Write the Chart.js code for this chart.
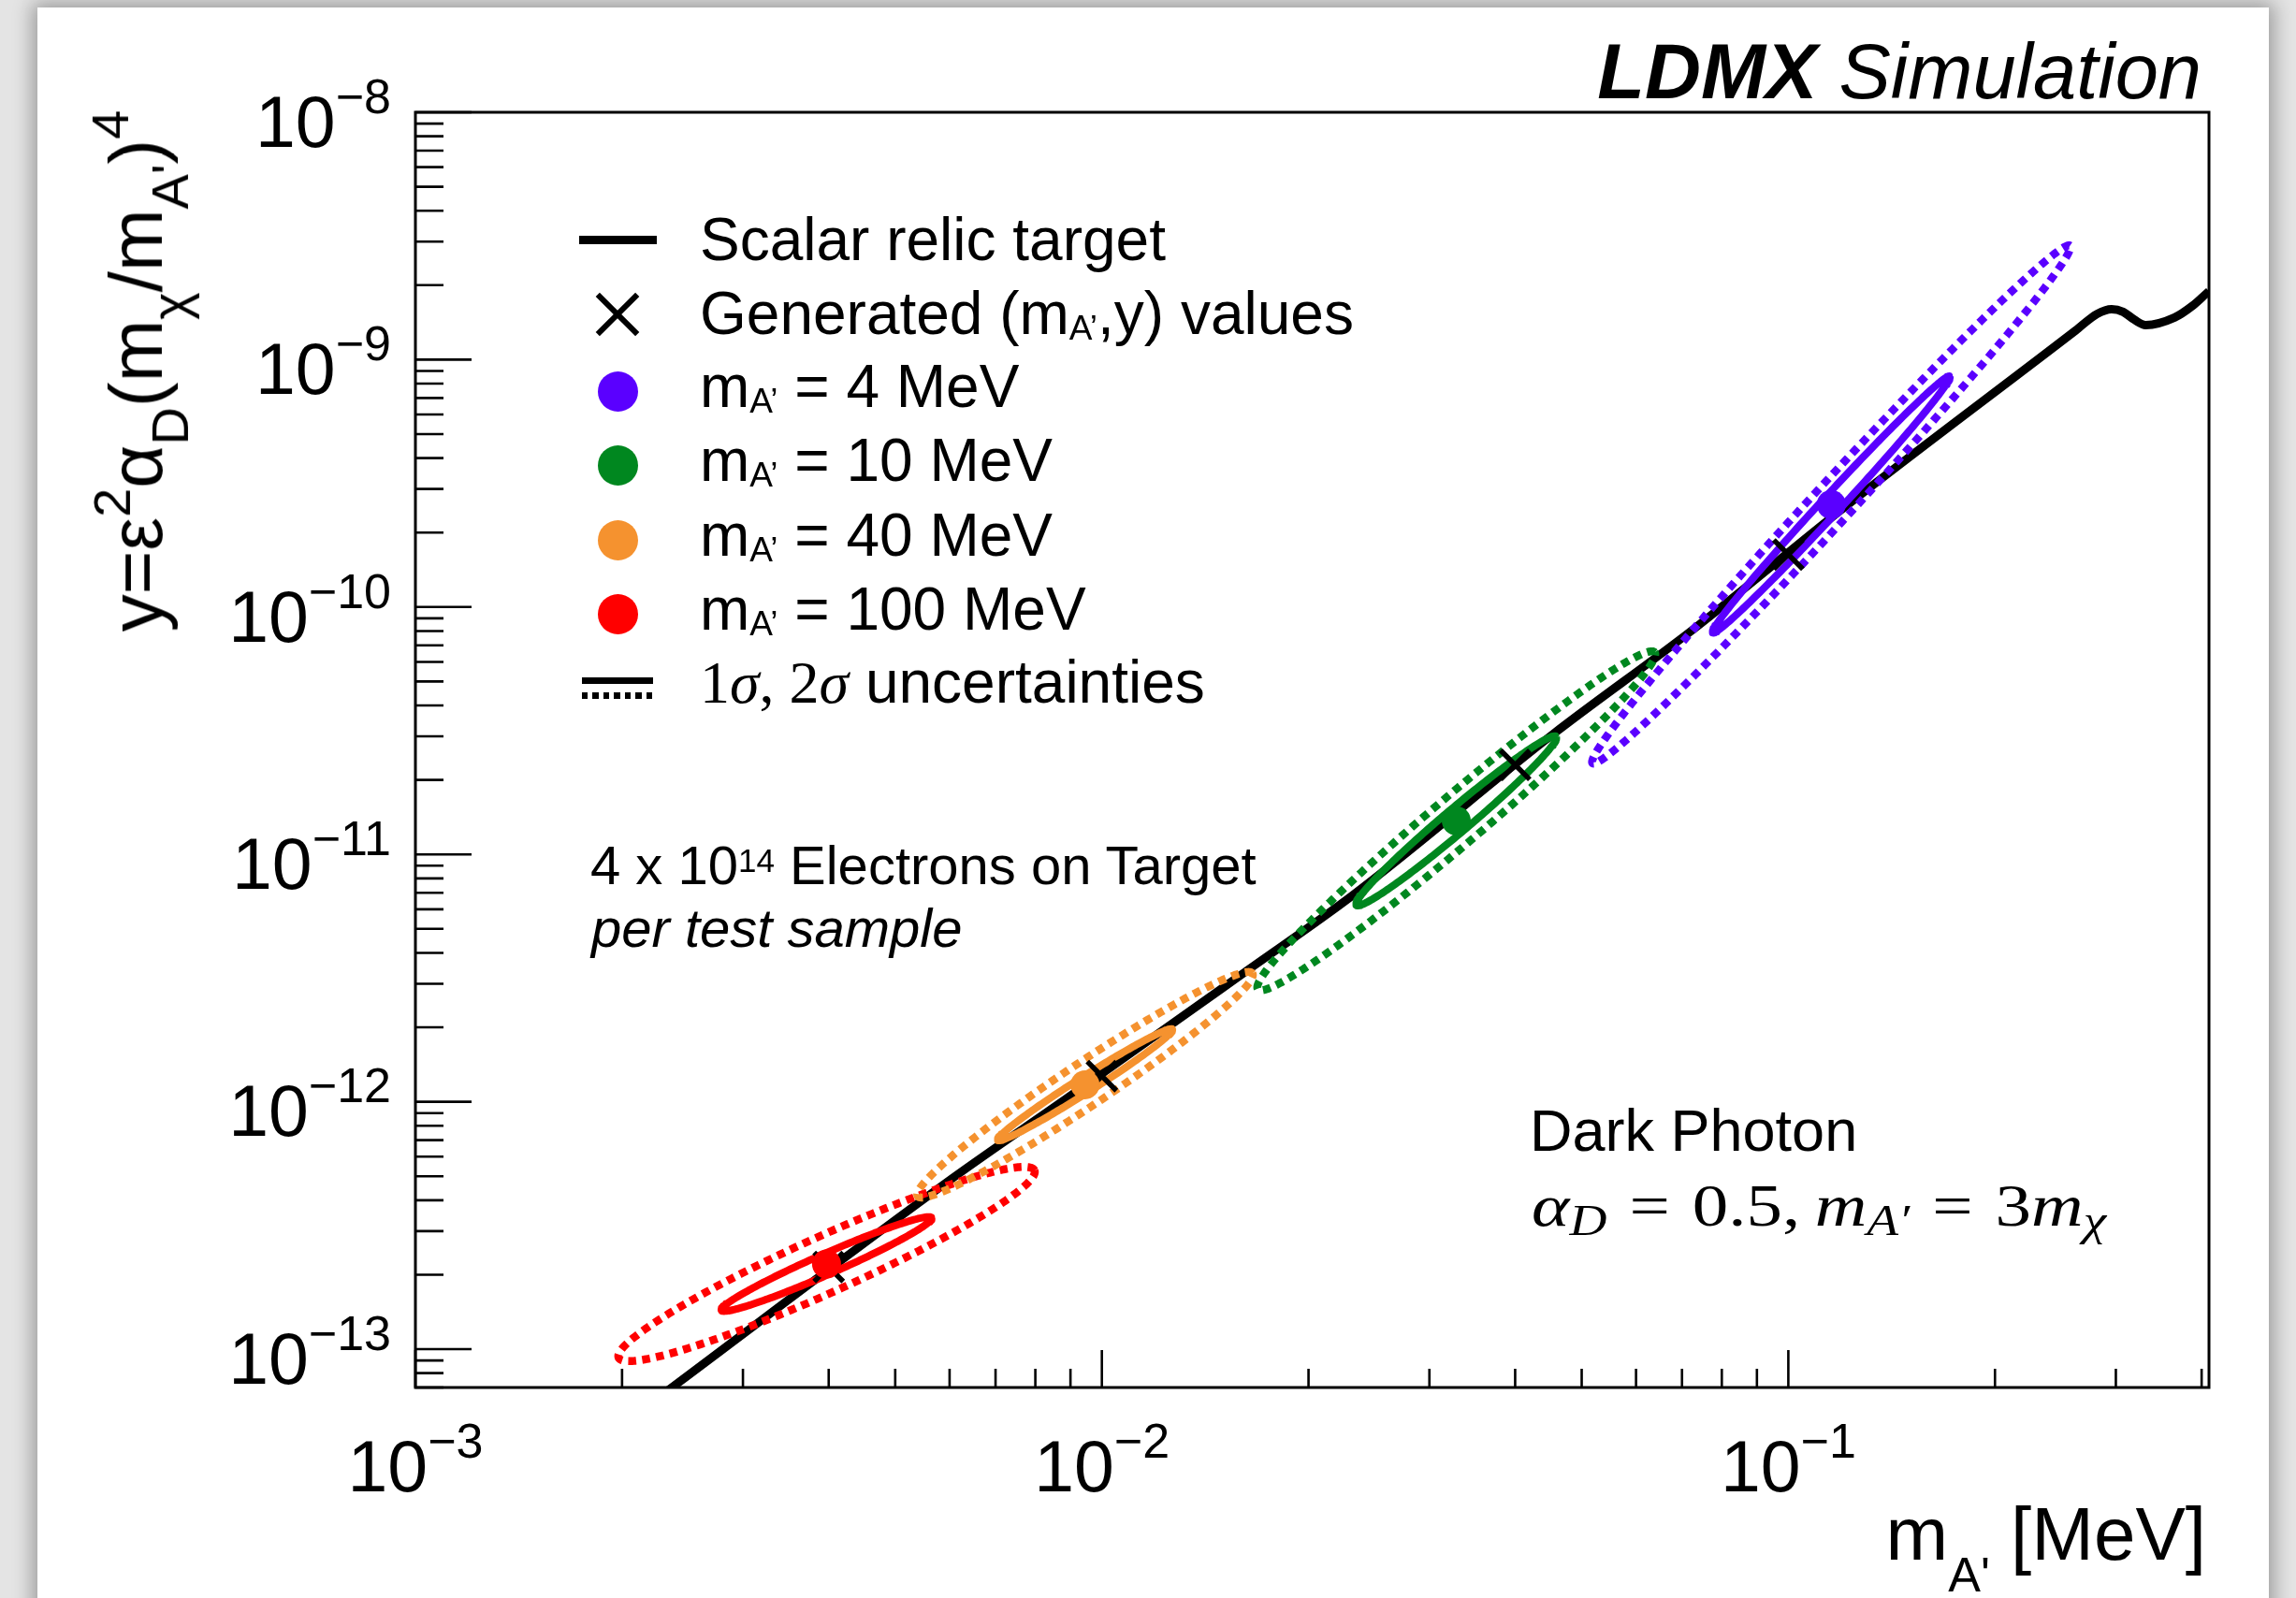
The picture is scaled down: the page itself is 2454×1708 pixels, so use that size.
<!DOCTYPE html>
<html><head><meta charset="utf-8">
<script src="https://cdn.jsdelivr.net/npm/chart.js@4.4.1/dist/chart.umd.min.js"></script>
<style>
html,body{margin:0;padding:0;background:#e4e4e4;overflow:hidden;width:2454px;height:1708px;}
#page{position:absolute;left:40px;top:8px;width:2385px;height:1760px;background:#fff;box-shadow:0 0 20px 5px rgba(0,0,0,0.33);}
#wrap{position:absolute;left:0;top:0;width:2454px;height:1708px;}
canvas{position:absolute;left:0;top:0;}
.t{position:absolute;white-space:nowrap;line-height:1;font-family:"Liberation Sans",Arial,Helvetica,sans-serif;color:#000;}
.b{position:absolute;}
</style></head>
<body>
<div id="page"></div>
<div id="wrap"><canvas id="c" width="2454" height="1708"></canvas></div>
<script>
// ---------------- data ----------------
const relicX = [0.00225, 0.00609, 0.00888, 0.0161, 0.0232, 0.0454, 0.0726, 0.1196, 0.262, 0.2816, 0.2958, 0.3074, 0.3192, 0.3315, 0.3653, 0.3879, 0.4064, 0.41];
const relicY = [6.32e-14, 4.96e-13, 1.03e-12, 3.32e-12, 6.84e-12, 3.06e-11, 8.10e-11, 2.48e-10, 1.31e-9, 1.53e-9, 1.60e-9, 1.56e-9, 1.45e-9, 1.38e-9, 1.48e-9, 1.65e-9, 1.85e-9, 1.89e-9];

const genX = [0.004, 0.01, 0.04, 0.1];
const genY = [2.15e-13, 1.27e-12, 2.3e-11, 1.63e-10];

const sampleNames = ['4 MeV', '10 MeV', '40 MeV', '100 MeV'];
const fitX = [0.1155, 0.03283, 0.009451, 0.003971];
const fitY = [2.598e-10, 1.367e-11, 1.172e-12, 2.209e-13];

const oneSigmaTipX  = [0.1719, 0.04589, 0.012665, 0.005650];
const oneSigmaTipY  = [8.57e-10, 2.995e-11, 1.963e-12, 3.395e-13];
const oneSigmaSideX = [0.112916, 0.031980, 0.009316, 0.003916];
const oneSigmaSideY = [2.757e-10, 1.490e-11, 1.247e-12, 2.412e-13];

const twoSigmaTipX  = [0.2573, 0.06386, 0.016569, 0.007976];
const twoSigmaTipY  = [2.889e-9, 6.561e-11, 3.304e-12, 5.282e-13];
const twoSigmaSideX = [0.1101, 0.03115, 0.009081, 0.003820];
const twoSigmaSideY = [2.943e-10, 1.624e-11, 1.385e-12, 2.805e-13];

const yTickExponents = [-8, -9, -10, -11, -12, -13];
const xTickExponents = [-3, -2, -1];
const minorMultipliers = [2, 3, 4, 5, 6, 7, 8, 9];

// ---------------- styles ----------------
const sampleColors = ['#5a00ff', '#00871f', '#f5922f', '#ff0000'];

const L10 = Math.log10;
function ellipsePoints(cx, cy, tx, ty, sx, sy, n) {
  const lcx = L10(cx), lcy = L10(cy);
  const ax = L10(tx) - lcx, ay = L10(ty) - lcy;
  const bx = L10(sx) - lcx, by = L10(sy) - lcy;
  const pts = [];
  for (let i = 0; i <= n; i++) {
    const t = 2 * Math.PI * i / n;
    pts.push({ x: Math.pow(10, lcx + ax * Math.cos(t) + bx * Math.sin(t)),
               y: Math.pow(10, lcy + ay * Math.cos(t) + by * Math.sin(t)) });
  }
  return pts;
}

const datasets = [];
datasets.push({
  type: 'line', label: 'Scalar relic target',
  data: relicX.map((x, i) => ({ x: x, y: relicY[i] })),
  showLine: true, borderColor: '#000', borderWidth: 9, pointRadius: 0,
  cubicInterpolationMode: 'monotone', order: 4, clip: 0, fill: false
});
sampleNames.forEach((n, i) => {
  datasets.push({
    type: 'line', label: n + ' 1 sigma',
    data: ellipsePoints(fitX[i], fitY[i], oneSigmaTipX[i], oneSigmaTipY[i], oneSigmaSideX[i], oneSigmaSideY[i], 240),
    showLine: true, borderColor: sampleColors[i], borderWidth: 8, pointRadius: 0,
    order: 3, clip: 0, fill: false, borderJoinStyle: 'round', tension: 0
  });
  datasets.push({
    type: 'line', label: n + ' 2 sigma',
    data: ellipsePoints(fitX[i], fitY[i], twoSigmaTipX[i], twoSigmaTipY[i], twoSigmaSideX[i], twoSigmaSideY[i], 360),
    showLine: true, borderColor: sampleColors[i], borderWidth: 8.5, borderDash: [8.5, 6.5],
    borderCapStyle: 'butt', pointRadius: 0, order: 3, clip: 0, fill: false, tension: 0
  });
});
datasets.push({
  type: 'line', label: 'Generated values',
  data: genX.map((x, i) => ({ x: x, y: genY[i] })),
  showLine: false, pointStyle: 'crossRot', pointRadius: 22,
  borderColor: '#000', pointBorderColor: '#000', borderWidth: 5.5, pointBorderWidth: 5.5, order: 2
});
sampleNames.forEach((n, i) => {
  datasets.push({
    type: 'line', label: "m_A' = " + n,
    data: [{ x: fitX[i], y: fitY[i] }],
    showLine: false, pointRadius: 15.5, pointStyle: 'circle',
    backgroundColor: sampleColors[i], pointBackgroundColor: sampleColors[i],
    borderColor: sampleColors[i], borderWidth: 0, pointBorderWidth: 0, order: 1
  });
});

// ---------------- text helpers ----------------
const wrap = document.getElementById('wrap');
function sc(txt, size, dy) {
  return '<span style="font-size:' + size + 'px;position:relative;top:' + dy + 'px">' + txt + '</span>';
}
function placeText(html, x, base, align, size, style, basef) {
  const d = document.createElement('div');
  d.className = 't';
  d.innerHTML = html;
  const bf = basef || 0.8465;
  d.style.fontSize = size + 'px';
  d.style.top = (base - bf * size) + 'px';
  d.style.left = x + 'px';
  if (align === 'right') d.style.transform = 'translateX(-100%)';
  else if (align === 'center') d.style.transform = 'translateX(-50%)';
  if (style) Object.assign(d.style, style);
  wrap.appendChild(d);
  return d;
}
function box(x, y, w, h, style) {
  const d = document.createElement('div');
  d.className = 'b';
  d.style.left = x + 'px'; d.style.top = y + 'px';
  d.style.width = w + 'px'; d.style.height = h + 'px';
  Object.assign(d.style, style || {});
  wrap.appendChild(d);
  return d;
}

let labelsDone = false;
function placeLabels(chart) {
  const a = chart.chartArea, xs = chart.scales.x, ys = chart.scales.y;
  yTickExponents.forEach(e => {
    const p = ys.getPixelForValue(Math.pow(10, e));
    placeText('10' + sc('\u2212' + (-e), 52, -36), a.left - 26, p + 37, 'right', 77);
  });
  xTickExponents.forEach(e => {
    const p = xs.getPixelForValue(Math.pow(10, e));
    placeText('10' + sc('\u2212' + (-e), 52, -36), p, a.bottom + 111, 'center', 77);
  });
  placeText('m' + sc("A'", 52, 34) + ' [MeV]', a.right - 3, 1668, 'right', 80);
  const F = 80;
  const yt = document.createElement('div');
  yt.className = 't';
  yt.innerHTML = 'y=\u03b5' + sc('2', 56, -34) + '\u03b1' + sc('D', 56, 28) + '(m' + sc('\u03c7', 56, 28) + '/m' + sc("A'", 56, 28) + ')' + sc('4', 56, -36);
  yt.style.fontSize = F + 'px';
  yt.style.left = 'auto';
  yt.style.right = (2454 - 174) + 'px';
  yt.style.top = (a.top - 2 - 0.8465 * F) + 'px';
  yt.style.transformOrigin = '100% ' + (0.8465 * F) + 'px';
  yt.style.transform = 'rotate(-90deg)';
  wrap.appendChild(yt);
}

// ---------------- static annotations ----------------
placeText('<b><i>LDMX</i></b> <i>Simulation</i>', 2353, 105, 'right', 83);

const legendBase = [278, 357, 435, 514, 594, 673, 751];
const legendX = 748, legendFont = 64, symX = 660;
const sub = t => sc(t, 37, 6);
placeText('Scalar relic target', legendX, legendBase[0], 'left', legendFont);
placeText('Generated (m' + sub('A\u2019') + ',y) values', legendX, legendBase[1], 'left', legendFont);
sampleNames.forEach((n, i) => {
  placeText('m' + sub('A\u2019') + ' = ' + n, legendX, legendBase[2 + i], 'left', legendFont);
});
placeText('<span style="font-family:\'Liberation Serif\',serif">1<i>\u03c3</i>, 2<i>\u03c3</i></span> uncertainties', legendX, legendBase[6], 'left', legendFont);

// legend keys
box(619, 252, 83, 9, { background: '#000' });
[45, -45].forEach(r => box(symX - 30, 336 - 3, 60, 6, { background: '#000', transform: 'rotate(' + r + 'deg)' }));
sampleColors.forEach((c, i) => {
  const cy = legendBase[2 + i] - 17;
  box(symX - 21.5, cy - 21.5, 43, 43, { background: c, borderRadius: '50%' });
});
box(622, 723.5, 76, 7.5, { background: '#000' });
box(622, 739.5, 76, 7.5, { background: 'repeating-linear-gradient(to right,#000 0px,#000 6.5px,transparent 6.5px,transparent 11.5px)' });

placeText('4 x 10' + sc('14', 35, -13) + ' Electrons on Target', 631, 945, 'left', 58);
placeText('<i>per test sample</i>', 632, 1012, 'left', 58);
placeText('Dark Photon', 1635, 1230, 'left', 63);
const ms = t => sc(t, 46, 10);
const mathDiv = placeText('<i>\u03b1</i>' + ms('<i>D</i>') + '<span style="margin:0 20px">=</span>0.5,\u2009<i>m</i>' + ms('<i>A\u2032</i>') +
  '<span style="margin:0 20px">=</span>3<i>m</i>' + ms('<i>\u03c7</i>'),
  1637, 1311, 'left', 64, { fontFamily: "'Liberation Serif','DejaVu Serif',serif", transformOrigin: '0 0' }, 0.8375);
const mw = mathDiv.getBoundingClientRect().width;
if (mw > 0) mathDiv.style.transform = 'scaleX(' + (614 / mw) + ')';

// ---------------- frame & ticks plugin ----------------
const framePlugin = {
  id: 'frameTicks',
  afterDatasetsDraw(chart) {
    const ctx = chart.ctx, a = chart.chartArea, xs = chart.scales.x, ys = chart.scales.y;
    ctx.save();
    ctx.strokeStyle = '#000';
    ctx.lineWidth = 2.6;
    ctx.beginPath();
    for (let e = -14; e <= -8; e++) {
      [1].concat(minorMultipliers).forEach(k => {
        const v = k * Math.pow(10, e);
        if (v < ys.min * 0.9999 || v > ys.max * 1.0001) return;
        const p = ys.getPixelForValue(v);
        ctx.moveTo(a.left, p); ctx.lineTo(a.left + (k === 1 ? 60 : 30), p);
      });
    }
    for (let e = -3; e <= -1; e++) {
      [1].concat(minorMultipliers).forEach(k => {
        const v = k * Math.pow(10, e);
        if (v < xs.min * 0.9999 || v > xs.max * 1.0001) return;
        const p = xs.getPixelForValue(v);
        ctx.moveTo(p, a.bottom); ctx.lineTo(p, a.bottom - (k === 1 ? 40 : 20));
      });
    }
    ctx.stroke();
    ctx.lineWidth = 3;
    ctx.strokeRect(a.left, a.top, a.right - a.left, a.bottom - a.top);
    ctx.restore();
  },
  afterRender(chart) {
    if (!labelsDone) { labelsDone = true; placeLabels(chart); }
  }
};

new Chart(document.getElementById('c'), {
  type: 'line',
  data: { datasets: datasets },
  options: {
    responsive: false, animation: false, devicePixelRatio: 1, events: [],
    layout: { padding: { left: 444, top: 120, right: 93, bottom: 225 } },
    elements: { line: { borderWidth: 8 }, point: { borderWidth: 5.5 } },
    plugins: { legend: { display: false }, tooltip: { enabled: false } },
    scales: {
      x: { type: 'logarithmic', min: 1e-3, max: 0.41, display: false, bounds: 'data' },
      y: { type: 'logarithmic', min: 7e-14, max: 1e-8, display: false, bounds: 'data' }
    }
  },
  plugins: [framePlugin]
});
</script>
</body></html>
